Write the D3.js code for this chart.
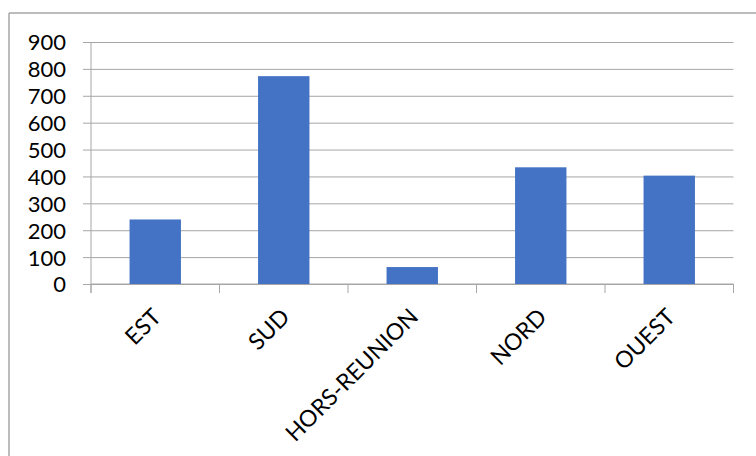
<!DOCTYPE html>
<html><head><meta charset="utf-8">
<script src="https://cdn.jsdelivr.net/npm/d3@7"></script>
<style>html,body{margin:0;padding:0;background:#fff;}svg{display:block;}</style>
</head><body>
<script>
const categories = ["EST", "SUD", "HORS-REUNION", "NORD", "OUEST"];
const values = [240, 773, 63, 434, 403];
const yTicks = [0, 100, 200, 300, 400, 500, 600, 700, 800, 900];

const W = 756, H = 456;
const svg = d3.select("body").append("svg").attr("width", W).attr("height", H);
const font = "Lato, 'Open Sans', sans-serif";
const grid = "#a6a6a6";

// chart border
svg.append("line").attr("x1", 9).attr("x2", W).attr("y1", 13).attr("y2", 13).attr("stroke", grid).attr("stroke-width", 1.5);
svg.append("line").attr("x1", 9).attr("x2", 9).attr("y1", 13).attr("y2", H).attr("stroke", grid).attr("stroke-width", 1.5);

const x = d3.scaleBand().domain(categories).range([91, 733.5]).paddingInner(0.6).paddingOuter(0.3);
const y = d3.scaleLinear().domain([0, 900]).range([284, 42]);

// gridlines + y ticks
const yAxis = svg.append("g").attr("transform", "translate(91,0)")
  .call(d3.axisLeft(y).tickValues(yTicks).tickSize(8).tickPadding(17).tickFormat(d3.format("d")));
yAxis.select(".domain").remove();
yAxis.selectAll(".tick line").attr("stroke", grid).attr("x1", 642.5).attr("x2", -8);
yAxis.selectAll(".tick text").attr("font-family", font).attr("font-size", 22).attr("fill", "#000").attr("dy", "0.36em");

// y axis line
svg.append("line").attr("x1", 91).attr("x2", 91).attr("y1", y(900)).attr("y2", 293).attr("stroke", grid);

// x axis line and boundary ticks
svg.append("line").attr("x1", 91).attr("x2", 733.5).attr("y1", y(0)).attr("y2", y(0)).attr("stroke", grid);
const bounds = categories.map(c => x(c) - x.step() * x.paddingInner() / 2).concat([x(categories[4]) + x.bandwidth() + x.step() * x.paddingInner() / 2]);
svg.selectAll(".xt").data(bounds).enter().append("line")
  .attr("x1", d => d).attr("x2", d => d).attr("y1", y(0)).attr("y2", 293).attr("stroke", grid);

// bars
svg.selectAll(".bar").data(values).enter().append("rect")
  .attr("x", (d, i) => x(categories[i]))
  .attr("width", x.bandwidth())
  .attr("y", d => y(d))
  .attr("height", d => y(0) - y(d))
  .attr("fill", "#4472c4");

// x labels
svg.selectAll(".xl").data(categories).enter().append("text")
  .attr("transform", d => `translate(${x(d) + x.bandwidth() / 2 - 4},${307}) rotate(-45)`)
  .attr("text-anchor", "end")
  .attr("dy", "0.7em")
  .attr("font-family", font).attr("font-size", 23).attr("fill", "#000")
  .text(d => d);
</script>
</body></html>
